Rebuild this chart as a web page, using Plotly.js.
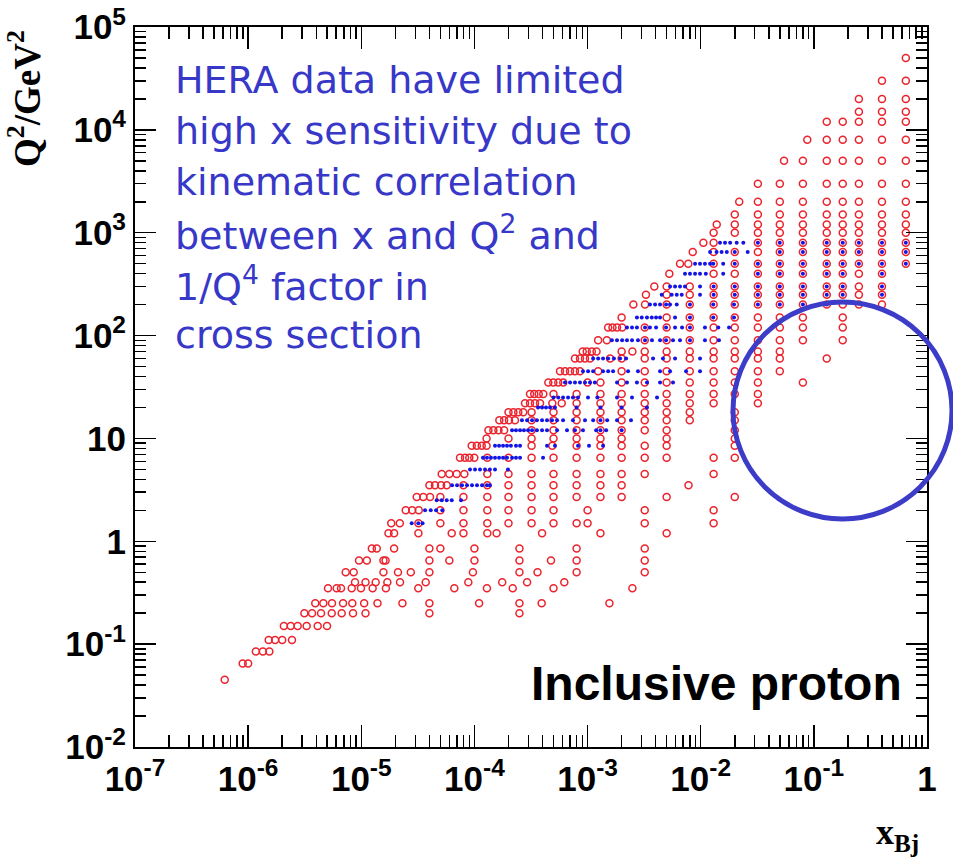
<!DOCTYPE html>
<html>
<head>
<meta charset="utf-8">
<script src="https://cdn.plot.ly/plotly-3.0.1.min.js"></script>
<style>html,body{margin:0;padding:0;background:#fff}#chart{width:953px;height:862px}</style>
</head>
<body>
<div id="chart"></div>
<script>
// ---- red open circles: one Q2 value per row, with the x values read in that row
const q2Red = [0.045, 0.065, 0.085, 0.11, 0.15, 0.2, 0.25, 0.35, 0.4, 0.5, 0.65, 0.85, 1.2, 1.5, 2, 2.7, 3.5, 4.5, 6.5, 8.5, 10, 12, 15, 18, 22, 27, 35, 45, 60, 70, 90, 120, 150, 200, 250, 300, 400, 500, 650, 800, 1000, 1200, 1500, 2000, 3000, 5000, 8000, 12000, 15000, 20000, 30000, 50000];
const xRed = [
  [6.21e-7],
  [8.95e-7, 1.0e-6],
  [1.17e-6, 1.35e-6, 1.54e-6],
  [1.52e-6, 1.73e-6, 2.0e-6, 2.44e-6],
  [2.07e-6, 2.38e-6, 2.74e-6, 3.29e-6, 4.12e-6, 4.98e-6],
  [3.14e-6, 3.67e-6, 4.41e-6, 5.48e-6, 6.71e-6, 8.45e-6, 1.09e-5, 4.0e-5, 2.5e-4],
  [3.92e-6, 4.62e-6, 5.51e-6, 6.9e-6, 8.33e-6, 1.06e-5, 1.39e-5, 2.31e-5, 4.0e-5, 1.1e-4, 2.5e-4, 3.93e-4, 1.56e-3],
  [5.08e-6, 6.06e-6, 6.62e-6, 8.23e-6, 9.94e-6, 1.26e-5, 1.65e-5, 3.19e-5, 6.64e-5, 1.29e-4, 2.18e-4, 5.0e-4, 2.49e-3],
  [8.8e-6, 1.09e-5, 1.34e-5, 1.7e-5, 2.2e-5, 3.71e-5, 8.83e-5, 1.76e-4, 2.92e-4, 6.23e-4],
  [7.28e-6, 8.57e-6, 1.57e-5, 2.11e-5, 2.74e-5, 4.0e-5, 9.7e-5, 2.5e-4, 3.61e-4, 8.0e-4, 3.2e-3],
  [9.55e-6, 1.12e-5, 1.57e-5, 1.64e-5, 4.0e-5, 6.0e-5, 1.0e-4, 2.5e-4, 4.75e-4, 8.0e-4, 3.2e-3],
  [1.24e-5, 1.37e-5, 1.95e-5, 4.0e-5, 5.0e-5, 1.0e-4, 2.5e-4, 8.0e-4, 3.2e-3],
  [1.74e-5, 1.95e-5, 3.2e-5, 6.3e-5, 8.0e-5, 1.3e-4, 1.57e-4, 3.96e-4, 1.3e-3, 5.0e-3],
  [1.84e-5, 2.19e-5, 3.2e-5, 5.0e-5, 8.0e-5, 1.3e-4, 2.0e-4, 3.2e-4, 5.0e-4, 8.0e-4, 1.0e-3, 3.2e-3, 1.3e-2],
  [2.47e-5, 2.82e-5, 3.22e-5, 5.0e-5, 8.0e-5, 1.3e-4, 2.0e-4, 3.2e-4, 5.0e-4, 1.0e-3, 3.2e-3, 1.3e-2],
  [3.09e-5, 3.53e-5, 4.05e-5, 5.0e-5, 8.0e-5, 1.3e-4, 2.0e-4, 3.2e-4, 5.0e-4, 8.0e-4, 1.3e-3, 2.0e-3, 5.0e-3, 2.0e-2],
  [4.0e-5, 4.48e-5, 5.07e-5, 5.69e-5, 8.0e-5, 1.3e-4, 2.0e-4, 3.2e-4, 5.0e-4, 8.0e-4, 1.3e-3, 2.0e-3, 7.8e-3],
  [5.14e-5, 6.0e-5, 6.97e-5, 8.14e-5, 1.3e-4, 2.0e-4, 3.2e-4, 5.0e-4, 8.0e-4, 1.3e-3, 2.0e-3, 3.2e-3, 1.3e-2],
  [7.46e-5, 8.26e-5, 9.01e-5, 9.97e-5, 1.3e-4, 2.0e-4, 3.2e-4, 5.0e-4, 8.0e-4, 1.3e-3, 2.0e-3, 3.2e-3, 5.0e-3, 1.3e-2, 2.0e-2],
  [9.46e-5, 1.05e-4, 1.16e-4, 1.28e-4, 3.2e-4, 4.88e-4, 8.0e-4, 1.3e-3, 2.0e-3, 3.2e-3, 5.0e-3, 2.0e-2],
  [1.28e-4, 2.0e-4, 3.2e-4, 5.0e-4, 8.0e-4, 1.3e-3, 2.0e-3, 5.0e-3, 2.0e-2],
  [1.33e-4, 1.47e-4, 1.63e-4, 1.83e-4, 3.2e-4, 5.0e-4, 8.0e-4, 1.3e-3, 2.0e-3, 3.2e-3, 5.0e-3, 2.0e-2],
  [1.66e-4, 1.83e-4, 2.02e-4, 2.28e-4, 3.2e-4, 5.0e-4, 8.0e-4, 1.3e-3, 2.0e-3, 3.2e-3, 5.0e-3, 8.0e-3, 2.0e-2],
  [2.0e-4, 2.21e-4, 2.44e-4, 2.7e-4, 3.2e-4, 5.0e-4, 8.0e-4, 1.3e-3, 2.0e-3, 3.2e-3, 5.0e-3, 8.0e-3, 2.0e-2],
  [2.8e-4, 3.1e-4, 3.43e-4, 3.8e-4, 4.88e-4, 5.91e-4, 8.0e-4, 1.3e-3, 2.0e-3, 3.2e-3, 5.0e-3, 8.0e-3, 1.3e-2, 3.2e-2],
  [3.1e-4, 3.38e-4, 3.7e-4, 4.06e-4, 5.0e-4, 8.0e-4, 1.3e-3, 2.0e-3, 3.2e-3, 5.0e-3, 8.0e-3, 1.3e-2, 2.0e-2, 3.2e-2],
  [4.5e-4, 4.98e-4, 5.51e-4, 6.1e-4, 1.0e-3, 1.3e-3, 2.0e-3, 3.2e-3, 5.0e-3, 8.0e-3, 1.3e-2, 2.0e-2, 3.2e-2, 8.0e-2],
  [5.71e-4, 6.32e-4, 7.0e-4, 7.74e-4, 8.57e-4, 1.24e-3, 2.0e-3, 3.2e-3, 5.0e-3, 8.0e-3, 1.3e-2, 2.0e-2, 3.2e-2, 5.0e-2],
  [7.74e-4, 8.57e-4, 9.49e-4, 1.05e-3, 1.58e-3, 2.0e-3, 3.2e-3, 5.0e-3, 8.0e-3, 1.3e-2, 2.0e-2, 3.2e-2, 5.0e-2, 0.13],
  [9.06e-4, 9.83e-4, 1.09e-3, 1.2e-3, 2.0e-3, 2.49e-3, 3.2e-3, 5.0e-3, 8.0e-3, 1.3e-2, 2.0e-2, 3.2e-2, 5.0e-2],
  [1.24e-3, 1.48e-3, 3.2e-3, 5.0e-3, 8.0e-3, 1.3e-2, 2.0e-2, 3.2e-2, 5.0e-2, 8.0e-2, 0.18],
  [1.52e-3, 1.66e-3, 1.82e-3, 2.02e-3, 3.2e-3, 5.0e-3, 8.0e-3, 1.3e-2, 2.0e-2, 3.2e-2, 5.0e-2, 8.0e-2, 0.18],
  [2.0e-3, 5.0e-3, 8.0e-3, 1.3e-2, 2.0e-2, 3.2e-2, 5.0e-2, 8.0e-2, 0.18],
  [2.54e-3, 3.22e-3, 5.0e-3, 8.0e-3, 1.3e-2, 2.0e-2, 3.2e-2, 5.0e-2, 8.0e-2, 0.13, 0.18, 0.25, 0.4],
  [3.28e-3, 5.0e-3, 8.0e-3, 1.3e-2, 2.0e-2, 3.2e-2, 5.0e-2, 8.0e-2, 0.13, 0.18, 0.25, 0.4],
  [3.89e-3, 5.0e-3, 8.0e-3, 1.3e-2, 2.0e-2, 3.2e-2, 5.0e-2, 8.0e-2, 0.13, 0.18, 0.25, 0.4],
  [5.28e-3, 1.3e-2, 2.0e-2, 3.2e-2, 5.0e-2, 8.0e-2, 0.13, 0.18, 0.25, 0.4],
  [6.56e-3, 7.77e-3, 1.3e-2, 2.0e-2, 3.2e-2, 5.0e-2, 8.0e-2, 0.13, 0.18, 0.25, 0.4, 0.65],
  [8.5e-3, 1.3e-2, 2.0e-2, 3.2e-2, 5.0e-2, 8.0e-2, 0.13, 0.18, 0.25, 0.4, 0.65],
  [1.055e-2, 1.3e-2, 3.2e-2, 5.0e-2, 8.0e-2, 0.13, 0.18, 0.25, 0.4, 0.65],
  [1.3e-2, 2.0e-2, 3.2e-2, 5.0e-2, 8.0e-2, 0.13, 0.18, 0.25, 0.4, 0.65],
  [1.385e-2, 2.0e-2, 3.2e-2, 5.0e-2, 8.0e-2, 0.13, 0.18, 0.25, 0.4, 0.65],
  [2.0e-2, 3.2e-2, 5.0e-2, 8.0e-2, 0.13, 0.18, 0.25, 0.4, 0.65],
  [2.19e-2, 3.2e-2, 5.0e-2, 8.0e-2, 0.13, 0.18, 0.25, 0.4, 0.65],
  [3.2e-2, 5.0e-2, 8.0e-2, 0.13, 0.18, 0.25, 0.4, 0.65],
  [5.45e-2, 8.0e-2, 0.13, 0.18, 0.25, 0.4, 0.65],
  [8.75e-2, 0.13, 0.18, 0.25, 0.4, 0.65],
  [0.13, 0.18, 0.25, 0.4, 0.65],
  [0.25, 0.4, 0.65],
  [0.25, 0.4, 0.65],
  [0.4, 0.65],
  [0.65]
];

// ---- blue dots: one Q2 value per row, with the x values read in that row
const q2Blue = [1.5, 2, 2.5, 3.5, 5, 6.5, 8.5, 12, 15, 20, 25, 35, 45, 60, 90, 120, 150, 200, 250, 300, 400, 500, 650, 800];
const xBlue = [
  [2.79e-5, 3.19e-5, 3.48e-5],
  [3.66e-5, 4.11e-5, 4.58e-5, 5.2e-5],
  [4.64e-5, 5.14e-5, 5.69e-5, 6.3e-5, 7.61e-5],
  [6.34e-5, 7.02e-5, 7.77e-5, 8.6e-5, 9.52e-5, 1.054e-4, 1.167e-4, 1.29e-4, 1.37e-4],
  [9.14e-5, 1.012e-4, 1.12e-4, 1.24e-4, 1.37e-4, 1.52e-4, 1.98e-4],
  [1.19e-4, 1.29e-4, 1.4e-4, 1.52e-4, 1.65e-4, 1.79e-4, 1.94e-4, 2.15e-4, 2.33e-4, 2.53e-4, 4.04e-4],
  [1.52e-4, 1.65e-4, 1.79e-4, 1.94e-4, 2.1e-4, 2.33e-4, 2.53e-4, 4.38e-4, 5.15e-4, 8.23e-4, 1.03e-3, 1.37e-3],
  [2.15e-4, 2.33e-4, 2.53e-4, 2.74e-4, 2.98e-4, 3.23e-4, 3.57e-4, 3.96e-4, 4.38e-4, 5.37e-4, 6.58e-4, 7.74e-4, 9.11e-4, 1.19e-3, 1.3e-3, 1.46e-3, 2.0e-3],
  [2.63e-4, 2.92e-4, 3.23e-4, 3.57e-4, 3.96e-4, 4.38e-4, 4.85e-4, 5.37e-4, 6.07e-4, 7.43e-4, 9.49e-4, 1.12e-3, 1.3e-3, 1.49e-3, 1.82e-3, 2.42e-3],
  [3.65e-4, 3.96e-4, 4.29e-4, 4.66e-4, 5.15e-4, 8.0e-4, 1.3e-3, 2.0e-3, 3.35e-3],
  [5.0e-4, 5.51e-4, 6.07e-4, 6.72e-4, 7.43e-4, 8.23e-4, 1.009e-3, 1.22e-3, 1.82e-3, 2.47e-3, 4.11e-3],
  [6.32e-4, 7.0e-4, 7.74e-4, 8.57e-4, 9.49e-4, 1.05e-3, 1.16e-3, 1.82e-3, 2.23e-3, 2.73e-3, 3.35e-3, 4.37e-3, 5.69e-3],
  [9.11e-4, 1.01e-3, 1.12e-3, 1.37e-3, 1.52e-3, 1.68e-3, 2.28e-3, 2.79e-3, 4.37e-3, 5.36e-3, 7.42e-3, 9.86e-3],
  [1.12e-3, 1.24e-3, 1.37e-3, 1.52e-3, 1.71e-3, 1.94e-3, 2.19e-3, 3.79e-3, 4.64e-3, 5.93e-3, 9.86e-3],
  [1.64e-3, 1.82e-3, 2.02e-3, 2.23e-3, 2.47e-3, 2.79e-3, 3.22e-3, 3.71e-3, 4.37e-3, 4.94e-3, 5.69e-3, 6.56e-3, 8.04e-3, 1.09e-2, 1.45e-2],
  [2.23e-3, 2.47e-3, 2.73e-3, 3.22e-3, 3.56e-3, 4.03e-3, 4.94e-3, 5.93e-3, 6.84e-3, 8.04e-3, 1.09e-2, 1.43e-2, 1.78e-2],
  [2.73e-3, 3.01e-3, 3.35e-3, 3.69e-3, 4.03e-3, 4.37e-3, 5.93e-3, 8.04e-3, 1.29e-2, 1.97e-2],
  [3.56e-3, 3.95e-3, 4.37e-3, 4.94e-3, 5.36e-3, 6.14e-3, 8.04e-3, 1.29e-2, 1.97e-2, 3.2e-2, 5.0e-2, 8.0e-2, 0.13],
  [4.52e-3, 5.54e-3, 6.14e-3, 6.8e-3, 9.86e-3, 1.3e-2, 2.0e-2, 3.2e-2, 5.0e-2, 8.0e-2, 0.13, 0.18, 0.4],
  [5.36e-3, 5.93e-3, 6.56e-3, 7.26e-3, 9.86e-3, 1.3e-2, 2.0e-2, 3.2e-2, 5.0e-2, 8.0e-2, 0.13, 0.18, 0.4],
  [7.26e-3, 8.04e-3, 8.91e-3, 9.86e-3, 1.11e-2, 1.58e-2, 3.2e-2, 5.0e-2, 8.0e-2, 0.13, 0.18, 0.4],
  [8.91e-3, 9.86e-3, 1.09e-2, 1.21e-2, 1.29e-2, 1.58e-2, 2.0e-2, 3.2e-2, 5.0e-2, 8.0e-2, 0.13, 0.18, 0.25, 0.4, 0.65],
  [1.21e-2, 1.38e-2, 1.53e-2, 1.7e-2, 2.0e-2, 2.6e-2, 5.0e-2, 8.0e-2, 0.13, 0.18, 0.25, 0.4, 0.65],
  [1.48e-2, 1.64e-2, 1.82e-2, 2.08e-2, 2.38e-2, 3.2e-2, 5.0e-2, 8.0e-2, 0.13, 0.18, 0.25, 0.4, 0.65]
];

// ---- axis tick labels
const xTickVals = [1e-7, 1e-6, 1e-5, 1e-4, 1e-3, 1e-2, 1e-1, 1];
const xTickText = ['10<sup>-7</sup>', '10<sup>-6</sup>', '10<sup>-5</sup>', '10<sup>-4</sup>', '10<sup>-3</sup>', '10<sup>-2</sup>', '10<sup>-1</sup>', '1'];
const yTickVals = [1e-2, 1e-1, 1, 10, 1e2, 1e3, 1e4, 1e5];
const yTickText = ['10<sup>-2</sup>', '10<sup>-1</sup>', '1', '10', '10<sup>2</sup>', '10<sup>3</sup>', '10<sup>4</sup>', '10<sup>5</sup>'];
const minorDigits = [2, 3, 4, 5, 6, 7, 8, 9];

const noteLines = ['HERA data have limited', 'high x sensitivity due to', 'kinematic correlation', 'between x and Q<sup>2</sup> and', '1/Q<sup>4</sup> factor in', 'cross section'];

function flatten(q2s, rows) {
  const xs = [], ys = [];
  rows.forEach((r, i) => r.forEach(v => { xs.push(v); ys.push(q2s[i]); }));
  return {xs, ys};
}
function minorTicks(majors) {
  const out = [];
  majors.slice(0, -1).forEach(m => minorDigits.forEach(d => out.push(m * d)));
  return out;
}
const red = flatten(q2Red, xRed);
const blue = flatten(q2Blue, xBlue);

const tickFont = {family: 'Liberation Sans, Arial, sans-serif', size: 35, color: '#000', weight: 'bold'};

const traces = [
  {x: red.xs, y: red.ys, type: 'scatter', mode: 'markers', hoverinfo: 'none',
   marker: {symbol: 'circle-open', size: 7, color: 'rgb(235,35,45)', line: {width: 1.5, color: 'rgb(235,35,45)'}}},
  {x: blue.xs, y: blue.ys, type: 'scatter', mode: 'markers', hoverinfo: 'none',
   marker: {symbol: 'circle', size: 4, color: 'rgb(20,20,230)'}}
];

const pxToPaperX = p => (p - 135) / 792;
const pyToPaperY = p => (747 - p) / 720;

const annotations = noteLines.map((t, i) => ({
  text: t, xref: 'paper', yref: 'paper', x: pxToPaperX(173), y: pyToPaperY(80 + 51 * i),
  xanchor: 'left', yanchor: 'middle', showarrow: false,
  font: {family: 'DejaVu Sans, sans-serif', size: 38, color: 'rgb(55,55,200)'}
}));
annotations.push({
  text: 'Inclusive proton', xref: 'paper', yref: 'paper', x: pxToPaperX(904), y: pyToPaperY(683),
  xanchor: 'right', yanchor: 'middle', showarrow: false,
  font: {family: 'Liberation Sans, Arial, sans-serif', size: 48, color: '#000', weight: 'bold'}
});
annotations.push({
  text: 'Q<sup>2</sup>/GeV<sup>2</sup>', xref: 'paper', yref: 'paper', x: pxToPaperX(25), y: pyToPaperY(99),
  xanchor: 'center', yanchor: 'middle', textangle: -90, showarrow: false,
  font: {family: 'Liberation Serif, Times New Roman, serif', size: 37, color: '#000', weight: 'bold'}
});
annotations.push({
  text: 'x<sub>Bj</sub>', xref: 'paper', yref: 'paper', x: pxToPaperX(897), y: pyToPaperY(834),
  xanchor: 'center', yanchor: 'middle', showarrow: false,
  font: {family: 'Liberation Serif, Times New Roman, serif', size: 36, color: '#000', weight: 'bold'}
});

const axisCommon = {
  type: 'log', showgrid: false, zeroline: false, showline: true, linewidth: 2, linecolor: '#000',
  mirror: 'ticks', ticks: 'inside', tickwidth: 1.5, tickcolor: '#000', tickmode: 'array',
  tickfont: tickFont
};

const layout = {
  width: 953, height: 862, margin: {l: 135, r: 26, t: 27, b: 115},
  paper_bgcolor: '#fff', plot_bgcolor: '#fff', showlegend: false,
  xaxis: Object.assign({}, axisCommon, {range: [-7, 0], tickvals: xTickVals, ticktext: xTickText, ticklen: 22,
    minor: {tickmode: 'array', tickvals: minorTicks(xTickVals), ticks: 'inside', ticklen: 12, tickwidth: 1.5, tickcolor: '#000', showgrid: false}}),
  yaxis: Object.assign({}, axisCommon, {range: [-2, 5], tickvals: yTickVals, ticktext: yTickText, ticklen: 21,
    minor: {tickmode: 'array', tickvals: minorTicks(yTickVals), ticks: 'inside', ticklen: 11, tickwidth: 1.5, tickcolor: '#000', showgrid: false}}),
  annotations: annotations,
  shapes: [{type: 'circle', xref: 'paper', yref: 'paper',
    x0: pxToPaperX(733), x1: pxToPaperX(952), y0: pyToPaperY(519), y1: pyToPaperY(302),
    line: {color: 'rgb(60,60,200)', width: 5}}]
};

Plotly.newPlot('chart', traces, layout, {staticPlot: true, displayModeBar: false});
</script>
</body>
</html>
